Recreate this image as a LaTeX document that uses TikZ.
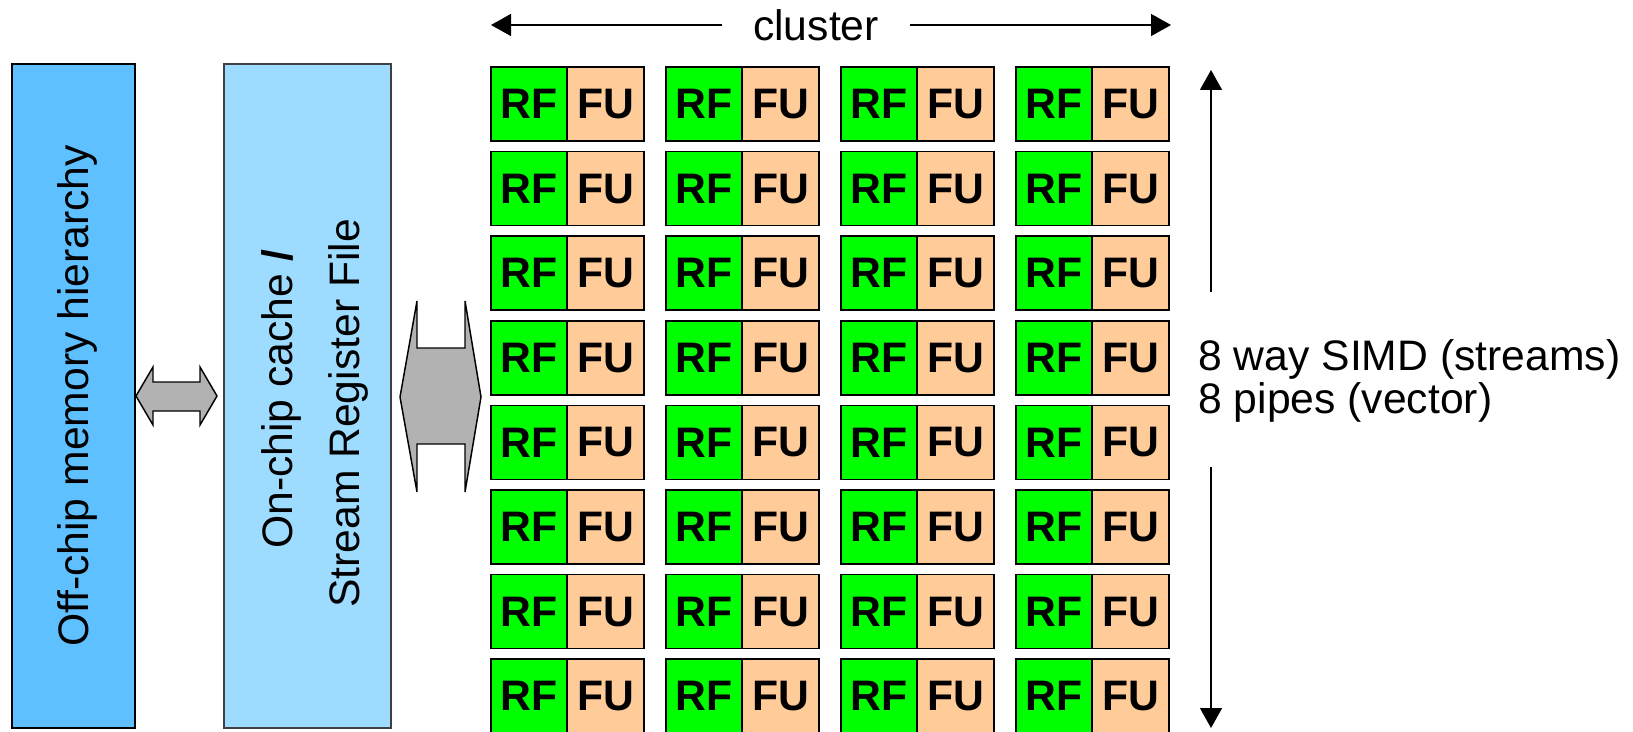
\documentclass[tikz,border=0pt]{standalone}
\usepackage{fontspec}
\setmainfont{Liberation Sans}
\usetikzlibrary{arrows.meta}
\definecolor{offc}{RGB}{95,192,255}
\definecolor{onc}{RGB}{157,219,255}
\definecolor{rfc}{RGB}{0,255,0}
\definecolor{fuc}{RGB}{255,204,153}
\definecolor{fatc}{RGB}{178,178,178}
\begin{document}
\begin{tikzpicture}[x=0.75pt,y=-0.75pt,
  every node/.style={font=\fontsize{32}{36}\selectfont},
  mem/.style={draw=black, line width=1.2pt, rotate=90, inner sep=0pt},
  cellrf/.style={draw=black, line width=1.2pt, fill=rfc, minimum width=57pt, minimum height=55.5pt, inner sep=0pt, outer sep=0pt, font=\fontsize{32}{36}\selectfont\bfseries},
  cellfu/.style={cellrf, fill=fuc, minimum width=57.75pt},
  fat/.style={draw=black, line width=1.1pt, fill=fatc, line join=miter},
  dimarrow/.style={line width=1.1pt, -{Triangle[length=15pt,width=16.5pt]}}
]
\useasboundingbox (0,0) rectangle (1633,731);
% memory boxes
\node[mem, fill=offc, text depth=0pt, minimum width=498pt, minimum height=92.25pt] (off) at (73.5,396) {Off-chip memory hierarchy};
\node[mem, fill=onc, draw=black!75, minimum width=498pt, minimum height=125.25pt] (on) at (307.5,396) {};
\node[rotate=90, inner sep=0pt, align=center, font=\fontsize{32}{50.25}\selectfont] (ontext) at (315,413.5) {\hspace*{21pt}On-chip cache \textbf{/}\\Stream Register File};
% fat double arrows
\draw[fat] (136,396) -- (153,367) -- (153,382) -- (200,382) -- (200,367) -- (217,396) -- (200,425) -- (200,411) -- (153,411) -- (153,425) -- cycle;
\draw[fat] (400,397) -- (417,301) -- (417,348) -- (465,348) -- (465,301) -- (481,397) -- (465,492) -- (465,444) -- (417,444) -- (417,492) -- cycle;
% clusters
\foreach \c in {0,...,3}{
  \foreach \r in {0,...,7}{
    \pgfmathsetmacro\xx{491+175*\c}
    \pgfmathsetmacro\yy{67+84.6*\r}
    \node[cellrf, anchor=north west] (rf-\r-\c) at (\xx,\yy) {RF};
    \node[cellfu, anchor=north west] (fu-\r-\c) at (rf-\r-\c.north east) {FU};
  }
}
% cluster dimension
\node[inner xsep=23pt, inner ysep=0pt] (cluster) at (816,25) {cluster};
\coordinate (cl-l) at (491,25);
\coordinate (cl-r) at (1171,25);
\draw[dimarrow] (cluster.west) -- (cl-l);
\draw[dimarrow] (cluster.east) -- (cl-r);
% SIMD dimension
\node[anchor=west, align=left, inner sep=0pt, font=\fontsize{32}{32}\selectfont] (simd) at (1198,381) {8 way SIMD (streams)\\8 pipes (vector)};
\coordinate (vtop) at (1211,70);
\coordinate (vbot) at (1211,728);
\coordinate (va) at (1211,292);
\coordinate (vb) at (1211,467);
\draw[dimarrow] (va) -- (vtop);
\draw[dimarrow] (vb) -- (vbot);
\end{tikzpicture}
\end{document}
